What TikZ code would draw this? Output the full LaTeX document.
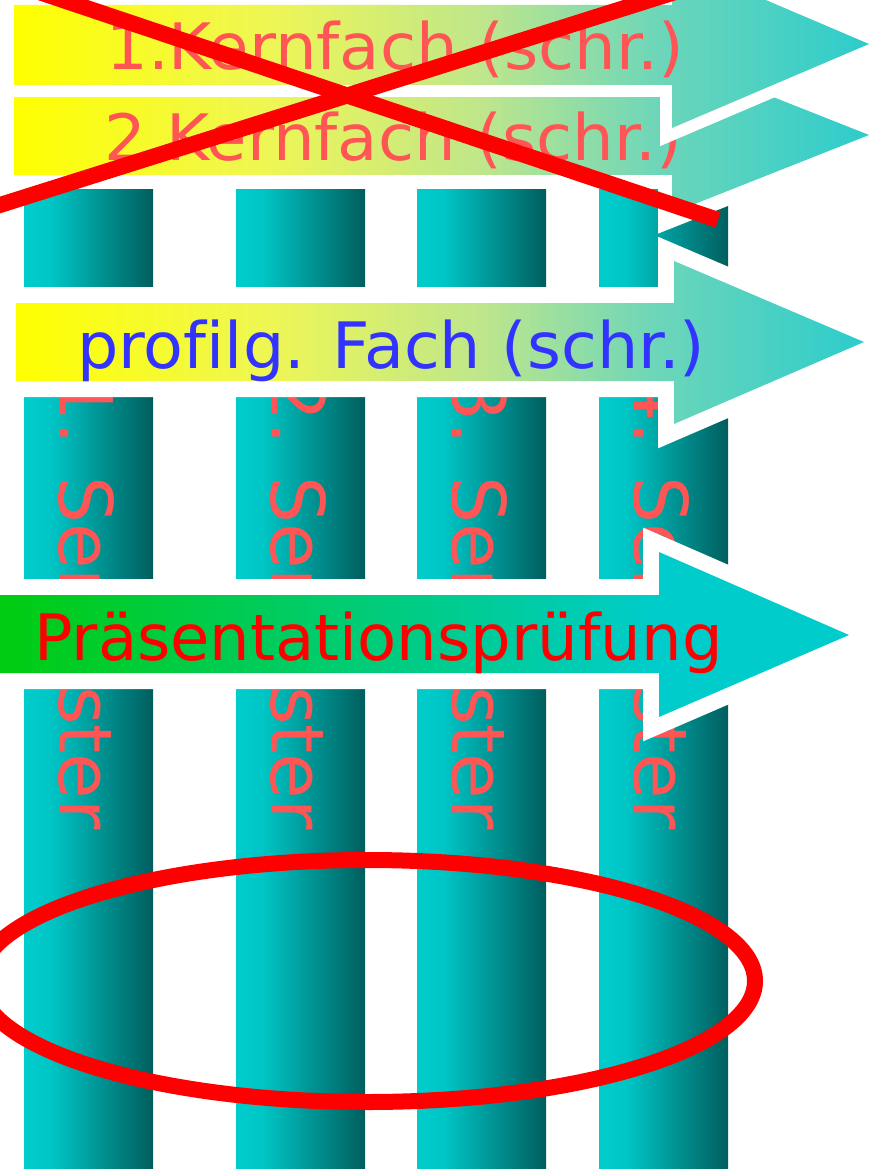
\documentclass[tikz,border=0pt]{standalone}
\usepackage{fontspec}
\setmainfont{DejaVu Sans}[Ligatures=NoCommon]
\definecolor{cyanA}{RGB}{0,204,204}
\definecolor{cyanB}{RGB}{0,198,198}
\definecolor{tealD}{RGB}{0,94,94}
\definecolor{yelA}{RGB}{255,255,0}
\definecolor{yelB}{RGB}{238,246,85}
\definecolor{yelC}{RGB}{190,230,140}
\definecolor{yelD}{RGB}{110,214,185}
\definecolor{yelE}{RGB}{45,204,204}
\definecolor{grnA}{RGB}{0,204,16}
\definecolor{salmon}{RGB}{255,85,85}
\definecolor{blueT}{RGB}{51,51,255}
\pgfdeclarehorizontalshading{colshade}{100bp}{color(0bp)=(cyanA); color(25bp)=(cyanA); color(35bp)=(cyanB); color(75bp)=(tealD); color(100bp)=(tealD)}
\pgfdeclarehorizontalshading{yelshade}{100bp}{color(0bp)=(yelA); color(25bp)=(yelA); color(40bp)=(yelB); color(52.5bp)=(yelC); color(62.5bp)=(yelD); color(75bp)=(yelE); color(100bp)=(yelE)}
\pgfdeclarehorizontalshading{grnshade}{100bp}{color(0bp)=(grnA); color(25bp)=(grnA); color(64bp)=(cyanA); color(100bp)=(cyanA)}
\begin{document}
\begin{tikzpicture}[x=1pt,y=-1pt,
  halo/.style={draw=white, line join=miter, line width=#1},
  big/.style={font=\fontsize{64}{70}\selectfont, inner sep=0pt, anchor=base west},
  semtext/.style={font=\fontsize{74}{80}\selectfont, inner sep=0pt, anchor=base west, rotate=-90, text=salmon},
  cross/.style={draw=red, line width=16pt}]
\useasboundingbox (0,0) rectangle (877,1169);
\clip (0,0) rectangle (877,1169);
% columns
\foreach \cx/\n in {24/1,236/2,417/3,599/4} {
  \shade[shading=colshade] (\cx,190) rectangle ++(129,990);
  \node[semtext] (s\n) at (\cx+35,374) {\n. Semester};
}
% arrow 2
\draw[halo=28pt] (14,97) -- (672,97) -- (672,57) -- (869,135) -- (672,213) -- (672,175) -- (14,175) -- cycle;
\shade[shading=yelshade] (14,97) -- (672,97) -- (672,57) -- (869,135) -- (672,213) -- (672,175) -- (14,175) -- cycle;
\node[big, text=salmon, xscale=1.027] (t2) at (104,161) {2.Kernfach (schr.)};
% arrow 1
\draw[halo=24pt] (14,5) -- (672,5) -- (672,-40) -- (869,44) -- (672,128) -- (672,85) -- (14,85) -- cycle;
\shade[shading=yelshade] (14,5) -- (672,5) -- (672,-40) -- (869,44) -- (672,128) -- (672,85) -- (14,85) -- cycle;
\node[big, text=salmon, xscale=1.027] (t1) at (106,70) {1.Kernfach (schr.)};
% arrow 3
\draw[halo=32pt] (16,303) -- (674,303) -- (674,261) -- (864,342) -- (674,424) -- (674,381) -- (16,381) -- cycle;
\shade[shading=yelshade] (16,303) -- (674,303) -- (674,261) -- (864,342) -- (674,424) -- (674,381) -- (16,381) -- cycle;
\node[big, text=blueT, xscale=1.018] (t3) at (77,368) {profilg. Fach (schr.)};
% arrow 4
\draw[halo=32pt] (0,595) -- (659,595) -- (659,552) -- (849,635) -- (659,717) -- (659,673) -- (0,673) -- cycle;
\shade[shading=grnshade] (0,595) -- (659,595) -- (659,552) -- (849,635) -- (659,717) -- (659,673) -- (0,673) -- cycle;
\node[big, text=red] (t4) at (34,660) {Präsentationsprüfung};
% red cross
\coordinate (xa1) at (30,-11);
\coordinate (xa2) at (718,220);
\coordinate (xb1) at (-20,211.3);
\coordinate (xb2) at (680,-9.5);
\draw[cross] (xa1) -- (xa2);
\draw[cross] (xb1) -- (xb2);
% red ellipse
\coordinate (ec) at (367,981);
\draw[cross] (ec) ellipse [x radius=388pt, y radius=121pt];
\end{tikzpicture}
\end{document}
